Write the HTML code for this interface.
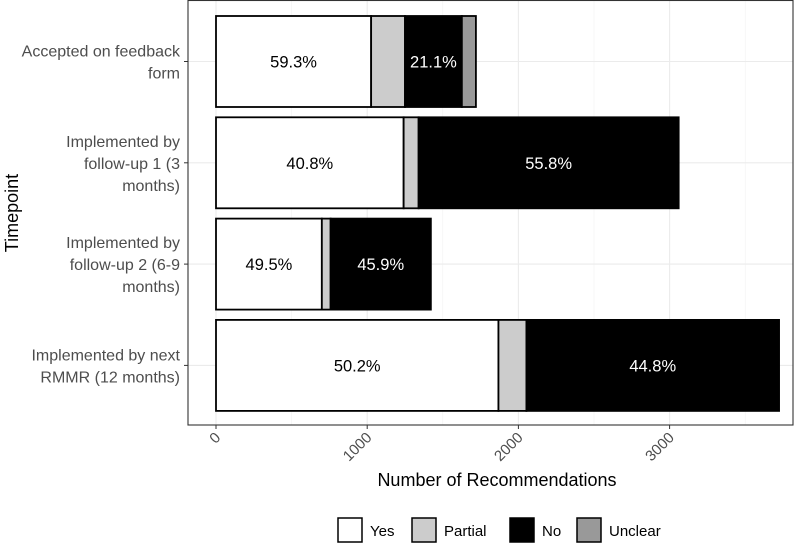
<!DOCTYPE html>
<html><head><meta charset="utf-8"><style>
body{margin:0;background:#fff;font-family:"Liberation Sans",Arial,sans-serif}
</style></head><body>
<svg id="c" width="809" height="547" xmlns="http://www.w3.org/2000/svg" font-family="Liberation Sans, Arial, sans-serif"></svg>
<script>
const categories=["Accepted on feedback form","Implemented by follow-up 1 (3 months)","Implemented by follow-up 2 (6-9 months)","Implemented by next RMMR (12 months)"];
const catLines=[["Accepted on feedback","form"],["Implemented by","follow-up 1 (3","months)"],["Implemented by","follow-up 2 (6-9","months)"],["Implemented by next","RMMR (12 months)"]];
const yesVals=[1026,1241,700,1868];
const partialVals=[224,99,58,185];
const noVals=[376,1720,663,1671];
const unclearVals=[93,0,0,0];
const yesLabels=["59.3%","40.8%","49.5%","50.2%"];
const noLabels=["21.1%","55.8%","45.9%","44.8%"];
const xTicks=[0,1000,2000,3000];
const series=["Yes","Partial","No","Unclear"];
const colors=["#ffffff","#cccccc","#000000","#999999"];

const svg=document.getElementById('c');
const NS="http://www.w3.org/2000/svg";
const L=188,R=793,T=0,B=425;
const x=v=>216+v*0.1512;
const bandH=101.3;
const yc=i=>61.5+bandH*i;
function mk(tag,attrs,parent){const e=document.createElementNS(NS,tag);for(const k in attrs)e.setAttribute(k,attrs[k]);(parent||svg).appendChild(e);return e;}

mk('rect',{x:L,y:T,width:R-L,height:B-T,fill:'#fff'});
for(let v=500;v<4000;v+=1000){const g=mk('line',{x1:x(v),x2:x(v),y1:T,y2:B,stroke:'#f2f2f2','stroke-width':0.6});

}
xTicks.forEach(v=>{const g=mk('line',{x1:x(v),x2:x(v),y1:T,y2:B,stroke:'#ebebeb','stroke-width':1.1});

});
categories.forEach((c,i)=>{const g=mk('line',{x1:L,x2:R,y1:yc(i),y2:yc(i),stroke:'#ebebeb','stroke-width':1.1});

});

const allVals=[yesVals,partialVals,noVals,unclearVals];
categories.forEach((c,i)=>{
  let acc=0;const h=91,y0=yc(i)-h/2;
  allVals.forEach((arr,s)=>{
    const v=arr[i]; if(v<=0) return;
    const r=mk('rect',{x:x(acc),y:y0,width:x(acc+v)-x(acc),height:h,fill:colors[s],stroke:'#000','stroke-width':1.8});
    
    
    acc+=v;
  });
  const t1=mk('text',{x:(x(0)+x(yesVals[i]))/2,y:yc(i)+6,'text-anchor':'middle','font-size':16.5,fill:'#000'});
  t1.textContent=yesLabels[i];
  
  
  const ns=yesVals[i]+partialVals[i];
  const t2=mk('text',{x:(x(ns)+x(ns+noVals[i]))/2,y:yc(i)+6,'text-anchor':'middle','font-size':16.5,fill:'#fff'});
  t2.textContent=noLabels[i];
  
  
  mk('line',{x1:L-4,x2:L,y1:yc(i),y2:yc(i),stroke:'#333','stroke-width':1});
  const lines=catLines[i];
  const tl=mk('text',{x:L-8,'text-anchor':'end','font-size':16,fill:'#4d4d4d'});
  
  
  lines.forEach((ln,k)=>{const ts=mk('tspan',{x:L-8,y:yc(i)+6+(k-(lines.length-1)/2)*22},tl);ts.textContent=ln;});
});
const frame=mk('rect',{x:L,y:T+0.5,width:R-L,height:B-T-0.5,fill:'none',stroke:'#333','stroke-width':1.1});


xTicks.forEach(v=>{
  mk('line',{x1:x(v),x2:x(v),y1:B,y2:B+4,stroke:'#333','stroke-width':1});
  const t=mk('text',{x:x(v)+4,y:B+14,'text-anchor':'end','font-size':15,fill:'#4d4d4d',transform:`rotate(-45 ${x(v)+4} ${B+12})`});
  t.textContent=v;
  
  
});
const xt=mk('text',{x:497,y:486,'text-anchor':'middle','font-size':18,fill:'#000'});xt.textContent="Number of Recommendations";


const yt=mk('text',{x:18,y:213,'text-anchor':'middle','font-size':18,fill:'#000',transform:'rotate(-90 18 213)'});yt.textContent="Timepoint";


const lx=[338,412,510,577];
series.forEach((s,k)=>{
  const r=mk('rect',{x:lx[k],y:518,width:24,height:24,fill:colors[k],stroke:'#000','stroke-width':1.5});
  
  
  const t=mk('text',{x:lx[k]+32,y:536,'font-size':15,fill:'#000'});t.textContent=s;
  
  
});
</script>
</body></html>
